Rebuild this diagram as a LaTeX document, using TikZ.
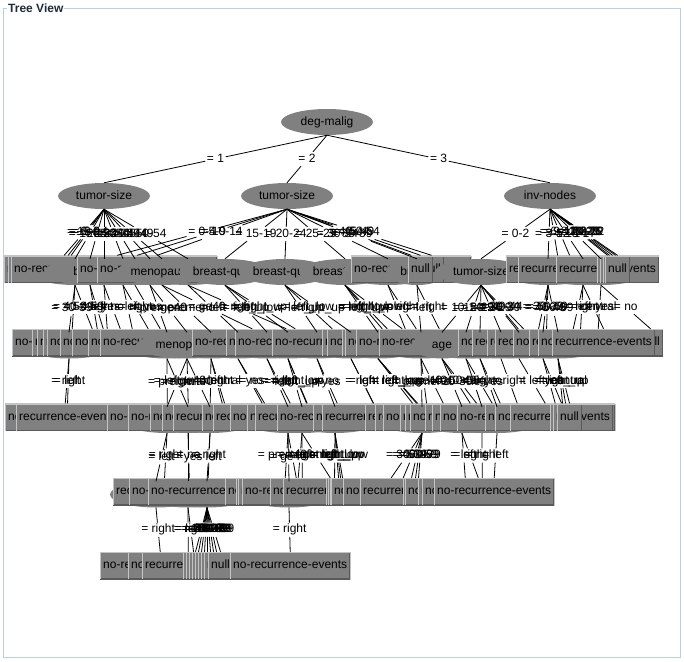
\documentclass[tikz,border=0pt]{standalone}
\usepackage{fontspec}
\setmainfont{Liberation Sans}
\usetikzlibrary{shapes.geometric}
\definecolor{frameblue}{HTML}{B8CFE5}
\definecolor{boxgray}{HTML}{808080}
\definecolor{boxlight}{HTML}{C4C4C4}
\definecolor{boxdark}{HTML}{5A5A5A}
\definecolor{titlecol}{HTML}{1F2B3A}
\newcommand\NRE{no-recurrence-events}
\newcommand\REC{recurrence-events}
\newcommand\NUL{null}
\newcommand\Lf[4]{\node[leaf] (#1) at (#2,#3) {#4};}
\newcommand\Hd[3]{\node[inode] (#1) at (#2,#3) {};}
\newcommand\El[5][92]{\node[inode,minimum width=#1pt] (#2) at (#3,#4) {#5};}
\newcommand\Ed[3]{\path (#1.south) -- node[elab] (L#2) {#3} (#2.north);\draw[edge] (#1.south) -- (L#2) -- (#2.north);}
\begin{document}
\begin{tikzpicture}[x=1pt,y=-1pt,font=\fontsize{12}{14}\selectfont,
  leaf/.style={rectangle, anchor=west, fill=boxgray, minimum height=27pt,
    inner xsep=3pt, inner ysep=0pt, text height=9pt, text depth=2.5pt,
    path picture={
      \draw[boxdark,line width=2pt] (path picture bounding box.north east) -- (path picture bounding box.south east) -- (path picture bounding box.south west);
      \draw[boxlight,line width=2pt] (path picture bounding box.south west) -- (path picture bounding box.north west) -- (path picture bounding box.north east);}},
  inode/.style={ellipse, fill=boxgray, inner sep=0pt, minimum width=92pt,
    minimum height=26pt, text height=9pt, text depth=2.5pt},
  elab/.style={inner sep=1.5pt, text height=8.5pt, text depth=2.5pt},
  edge/.style={draw=black, line width=0.8pt},
  titlebox/.style={anchor=west, fill=white, inner xsep=1pt, inner ysep=0pt,
    text=titlecol, font=\fontsize{12}{14}\selectfont\bfseries}]
\useasboundingbox (0,0) rectangle (684,661);
\draw[frameblue,line width=1pt] (3,8.5) rectangle (680.5,657.5);
\node[titlebox] (title) at (7,8.5) {Tree View};
\begin{scope}
\clip (3.5,9) rectangle (680,657);
% level 0 and 1
\node[inode] (root) at (327,122) {deg-malig};
\node[inode] (A) at (104,196) {tumor-size};
\node[inode] (B) at (287,196) {tumor-size};
\node[inode] (C) at (550,196) {inv-nodes};
% row 1
\Hd{a4}{75}{272}\Hd{a6}{104}{272}\Hd{a7}{123}{272}\Hd{a8}{135}{272}
\Hd{a9}{150}{272}\Hd{a11}{188}{272}
\Hd{c2}{548}{272}\Hd{c5}{583}{272}\Hd{c6}{601}{272}
\Lf{a1}{4}{269}{\NRE}
\Lf{a2}{8}{269}{\NRE}
\Lf{b1}{57}{269}{\NRE}
\Lf{a3}{11}{269}{\NRE}
\El{a5}{90}{272}{breast}
\Lf{b2}{77}{269}{\NRE}
\Lf{b3}{97}{269}{\NRE}
\El{a10}{162}{272}{menopause}
\El{b4}{225}{272}{breast-quad}
\El{b5}{285}{272}{breast-quad}
\El{b6}{345}{272}{breast-quad}
\Hd{b7}{388}{272}
\Lf{b9}{351}{269}{\NRE}
\El[62]{b8}{417}{272}{breast}
\Lf{b11}{419}{269}{\NUL}
\Lf{b10}{408}{269}{\NUL}
\El{c1}{481}{272}{tumor-size}
\Lf{c3}{506}{269}{\REC}
\Lf{c4}{518}{269}{\REC}
\Lf{c7}{556}{269}{\REC}
\Lf{c8}{597}{269}{\NUL}
\Lf{c9}{600}{269}{\NUL}
\Lf{c10}{603}{269}{\NUL}
\Lf{c11}{605}{269}{\NUL}
% row 2
\Hd{h69}{69}{345.5}\Hd{h167}{167}{345.5}\Hd{h211}{211}{345.5}\Hd{h238}{238}{345.5}
\Hd{h267}{267}{345.5}\Hd{h288}{288}{345.5}\Hd{h317}{317}{345.5}\Hd{h351}{351}{345.5}
\Hd{h378}{378}{345.5}\Hd{h421}{421}{345.5}\Hd{h466}{466}{345.5}\Hd{h480}{480}{345.5}
\Hd{h501}{501}{345.5}\Hd{h519}{519}{345.5}\Hd{h543}{543}{345.5}\Hd{h558}{558}{345.5}
\Lf{d01}{12}{342.5}{\NRE}
\Lf{d02}{32}{342.5}{\NRE}
\Lf{d03}{37}{342.5}{\NRE}
\Lf{d04}{43}{342.5}{\NRE}
\Lf{d05}{47}{342.5}{\NRE}
\Lf{d06}{60}{342.5}{\NRE}
\Lf{d07}{72}{342.5}{\NRE}
\Lf{d08}{88}{342.5}{\NRE}
\Lf{d09}{100}{342.5}{\NRE}
\El[102]{dM}{187}{345.5}{menopause}
\Lf{d10}{192}{342.5}{\NRE}
\Lf{d11}{226}{342.5}{\NRE}
\Lf{d12}{235}{342.5}{\NRE}
\Lf{d13}{272}{342.5}{\NRE}
\Lf{d14}{322}{342.5}{\NRE}
\Lf{d15}{327}{342.5}{\NRE}
\Lf{d16}{342}{342.5}{\NRE}
\Lf{d17}{345}{342.5}{\NRE}
\Lf{d18}{356}{342.5}{\NRE}
\Lf{d19}{379}{342.5}{\NRE}
\El[62]{dA}{442}{345.5}{age}
\Lf{d20}{458}{342.5}{\NRE}
\Lf{d21}{472}{342.5}{\REC}
\Lf{d22}{487}{342.5}{\REC}
\Lf{d23}{495}{342.5}{\REC}
\Lf{d24}{513}{342.5}{\NRE}
\Lf{d25}{529}{342.5}{\REC}
\Lf{d26}{538}{342.5}{\NRE}
\Lf{d27}{638}{342.5}{\NUL}
\Lf{d28}{552}{342.5}{\REC}
% row 3
\Hd{g167}{167}{420}\Hd{g188}{188}{420}\Hd{g210}{210}{420}\Hd{g288}{288}{420}
\Hd{g302}{302}{420}\Hd{g335}{335}{420}\Hd{g422}{422}{420}\Hd{g462}{462}{420}
\Hd{g482}{482}{420}\Hd{g497}{497}{420}
\Lf{e01}{5}{417}{\NRE}
\Lf{e02}{16}{417}{\REC}
\Lf{e03}{107}{417}{\NRE}
\Lf{e04}{128}{417}{\NRE}
\Lf{e05}{150}{417}{\NRE}
\Lf{e06}{162}{417}{\NRE}
\Lf{e07}{173}{417}{\REC}
\Lf{e08}{202}{417}{\NRE}
\Lf{e09}{213}{417}{\REC}
\Lf{e10}{230}{417}{\NRE}
\Lf{e11}{247}{417}{\NRE}
\Lf{e12}{255}{417}{\REC}
\Lf{e13}{277}{417}{\NRE}
\Lf{e14}{313}{417}{\NRE}
\Lf{e15}{322}{417}{\REC}
\Lf{e16}{365}{417}{\REC}
\Lf{e17}{375}{417}{\REC}
\Lf{e18}{383}{417}{\NRE}
\Lf{e19}{400}{417}{\NUL}
\Lf{e20}{405}{417}{\NUL}
\Lf{e21}{410}{417}{\NRE}
\Lf{e22}{425}{417}{\REC}
\Lf{e23}{432}{417}{\NRE}
\Lf{e24}{440}{417}{\NRE}
\Lf{e25}{457}{417}{\NRE}
\Lf{e26}{485}{417}{\NRE}
\Lf{e27}{495}{417}{\NRE}
\Lf{e28}{510}{417}{\REC}
\Lf{e29}{550}{417}{\NUL}
\Lf{e30}{553}{417}{\NUL}
\Lf{e31}{557}{417}{\NUL}
% row 4
\Hd{k156}{156}{494.5}\Hd{k188}{188}{494.5}\Hd{k207}{207}{494.5}\Hd{k289}{289}{494.5}
\Lf{f01}{113}{491.5}{\REC}
\Lf{f02}{129}{491.5}{\NRE}
\Lf{f03}{148}{491.5}{\NRE}
\Lf{f04}{225}{491.5}{\NRE}
\Lf{f05}{236}{491.5}{\NRE}
\Lf{f06}{238}{491.5}{\NRE}
\Lf{f07}{242}{491.5}{\NRE}
\Lf{f08}{270}{491.5}{\NRE}
\Lf{f09}{283}{491.5}{\REC}
\Lf{f10}{326}{491.5}{\NUL}
\Lf{f11}{328}{491.5}{\NUL}
\Lf{f12}{330}{491.5}{\NUL}
\Lf{f13}{331}{491.5}{\NRE}
\Lf{f14}{343}{491.5}{\NRE}
\Lf{f15}{360}{491.5}{\REC}
\Lf{f16}{403}{491.5}{\NUL}
\Lf{f17}{406}{491.5}{\NUL}
\Lf{f18}{405}{491.5}{\NRE}
\Lf{f19}{418}{491.5}{\NRE}
\Lf{f20}{422}{491.5}{\NRE}
\Lf{f21}{434}{491.5}{\NRE}
% row 5
\Lf{m01}{100}{565.5}{\NRE}
\Lf{m02}{128}{565.5}{\NRE}
\Lf{m03}{142}{565.5}{\REC}
\Lf{m04}{183}{565.5}{\NUL}
\Lf{m05}{186}{565.5}{\NUL}
\Lf{m06}{189}{565.5}{\NUL}
\Lf{m07}{192}{565.5}{\NUL}
\Lf{m08}{195}{565.5}{\NUL}
\Lf{m09}{198}{565.5}{\NUL}
\Lf{m10}{201}{565.5}{\NUL}
\Lf{m11}{204}{565.5}{\NUL}
\Lf{m12}{208}{565.5}{\NUL}
\Lf{m13}{230}{565.5}{\NRE}
% edges level 0-1
\Ed{root}{A}{= 1}\Ed{root}{B}{= 2}\Ed{root}{C}{= 3}
% A
\Ed{A}{a1}{= 0-4}\Ed{A}{a2}{= 5-9}\Ed{A}{a3}{= 10-14}\Ed{A}{a4}{= 15-19}
\Ed{A}{a5}{= 20-24}\Ed{A}{a6}{= 25-29}\Ed{A}{a7}{= 30-34}\Ed{A}{a8}{= 35-39}
\Ed{A}{a9}{= 40-44}\Ed{A}{a10}{= 45-49}\Ed{A}{a11}{= 50-54}
% B
\Ed{B}{b1}{= 0-4}\Ed{B}{b2}{= 5-9}\Ed{B}{b3}{= 10-14}\Ed{B}{b4}{= 15-19}
\Ed{B}{b5}{= 20-24}\Ed{B}{b6}{= 25-29}\Ed{B}{b7}{= 30-34}\Ed{B}{b8}{= 35-39}
\Ed{B}{b9}{= 40-44}\Ed{B}{b10}{= 45-49}\Ed{B}{b11}{= 50-54}
% C
\Ed{C}{c1}{= 0-2}\Ed{C}{c2}{= 3-5}\Ed{C}{c3}{= 6-8}\Ed{C}{c4}{= 9-11}
\Ed{C}{c5}{= 12-14}\Ed{C}{c6}{= 15-17}\Ed{C}{c7}{= 18-20}\Ed{C}{c8}{= 21-23}
\Ed{C}{c9}{= 24-26}\Ed{C}{c10}{= 27-29}\Ed{C}{c11}{= 30-32}
% row 1 -> row 2
\Ed{a4}{h69}{= 30-39}\Ed{a4}{d01}{= 40-49}\Ed{a4}{d02}{= 50-59}
\Ed{a5}{d03}{= left}\Ed{a5}{d04}{= right}
\Ed{a6}{d05}{= yes}\Ed{a6}{d06}{= no}
\Ed{a7}{d07}{= left}\Ed{a7}{d08}{= right}
\Ed{a8}{d09}{= yes}
\Ed{a9}{h167}{= premeno}\Ed{a9}{dM}{= ge40}
\Ed{a10}{h211}{= premeno}\Ed{a10}{d10}{= ge40}
\Ed{a11}{h238}{= left}\Ed{a11}{d11}{= right}
\Ed{b4}{h267}{= left\_up}\Ed{b4}{h288}{= left\_low}\Ed{b4}{d12}{= right\_up}
\Ed{b5}{h317}{= left\_up}\Ed{b5}{d13}{= left\_low}\Ed{b5}{h351}{= right\_up}
\Ed{b6}{h378}{= left\_up}\Ed{b6}{d14}{= left\_low}\Ed{b6}{d15}{= right\_up}\Ed{b6}{d16}{= right\_low}
\Ed{b7}{d17}{= left}\Ed{b7}{d18}{= right}
\Ed{b8}{h421}{= left}\Ed{b8}{d19}{= right}
\Ed{c1}{dA}{= 10-14}\Ed{c1}{h466}{= 15-19}\Ed{c1}{h480}{= 20-24}\Ed{c1}{h501}{= 25-29}
\Ed{c1}{d20}{= 30-34}\Ed{c1}{h519}{= 35-39}\Ed{c1}{d21}{= 40-44}
\Ed{c2}{d22}{= 30-39}\Ed{c2}{h543}{= 40-49}\Ed{c2}{d23}{= 50-59}\Ed{c2}{h558}{= 60-69}
\Ed{c5}{d24}{= left}\Ed{c5}{d25}{= right}\Ed{c5}{d28}{= central}
\Ed{c6}{d26}{= yes}\Ed{c6}{d27}{= no}
% row 2 -> row 3
\Ed{h69}{e01}{= left}\Ed{h69}{e02}{= right}
\Ed{h167}{e03}{= left}\Ed{h167}{g188}{= right}
\Ed{dM}{g167}{= premeno}\Ed{dM}{e04}{= ge40}\Ed{dM}{g210}{= lt40}
\Ed{h211}{e05}{= left}\Ed{h211}{e06}{= right}\Ed{h211}{e07}{= central}
\Ed{h238}{e08}{= yes}\Ed{h238}{e09}{= no}
\Ed{h267}{g288}{= left}\Ed{h267}{e10}{= right}
\Ed{h288}{g302}{= left\_up}\Ed{h288}{e11}{= left\_low}\Ed{h288}{e12}{= right\_up}
\Ed{h317}{g335}{= yes}\Ed{h317}{e13}{= no}
\Ed{h351}{e14}{= left}\Ed{h351}{e15}{= right}
\Ed{h378}{e19}{= left\_up}\Ed{h378}{e16}{= left\_low}\Ed{h378}{e20}{= right\_up}
\Ed{h421}{g422}{= premeno}\Ed{h421}{e17}{= ge40}\Ed{h421}{e18}{= lt40}
\Ed{dA}{g462}{= 30-39}\Ed{dA}{e21}{= 40-49}\Ed{dA}{e22}{= 50-59}
\Ed{h466}{g482}{= left}\Ed{h466}{e23}{= right}
\Ed{h480}{g497}{= yes}\Ed{h480}{e24}{= no}
\Ed{h501}{e25}{= right}
\Ed{h519}{e26}{= left}
\Ed{h543}{e27}{= yes}\Ed{h543}{e28}{= no}
\Ed{h558}{e29}{= left\_up}\Ed{h558}{e30}{= right\_up}\Ed{h558}{e31}{= central}
% row 3 -> row 4
\Ed{g167}{k156}{= left}\Ed{g167}{f01}{= right}
\Ed{g188}{k188}{= yes}\Ed{g188}{f02}{= no}
\Ed{g210}{k207}{= left}\Ed{g210}{f03}{= right}
\Ed{g288}{f04}{= premeno}\Ed{g288}{k289}{= ge40}\Ed{g288}{f05}{= lt40}
\Ed{g302}{f06}{= left}\Ed{g302}{f07}{= right}\Ed{g302}{f08}{= central}
\Ed{g335}{f09}{= left\_up}\Ed{g335}{f10}{= left\_low}\Ed{g335}{f11}{= right\_up}\Ed{g335}{f12}{= right\_low}
\Ed{g422}{f13}{= 30-39}\Ed{g422}{f14}{= 40-49}\Ed{g422}{f15}{= 50-59}\Ed{g422}{f16}{= 60-69}\Ed{g422}{f17}{= 70-79}
\Ed{g462}{f18}{= left}\Ed{g462}{f19}{= right}
\Ed{g482}{f20}{= right}
\Ed{g497}{f21}{= left}
% row 4 -> row 5
\Ed{k156}{m01}{= right}
\Ed{k188}{m02}{= left}\Ed{k188}{m03}{= right}
\Ed{k207}{m04}{= 10-19}\Ed{k207}{m05}{= 20-29}\Ed{k207}{m06}{= 30-39}
\Ed{k207}{m07}{= 40-49}\Ed{k207}{m08}{= 50-59}\Ed{k207}{m09}{= 60-69}
\Ed{k207}{m10}{= 70-79}\Ed{k207}{m11}{= 80-89}\Ed{k207}{m12}{= 90-99}
\Ed{k289}{m13}{= right}
\end{scope}
\end{tikzpicture}
\end{document}
